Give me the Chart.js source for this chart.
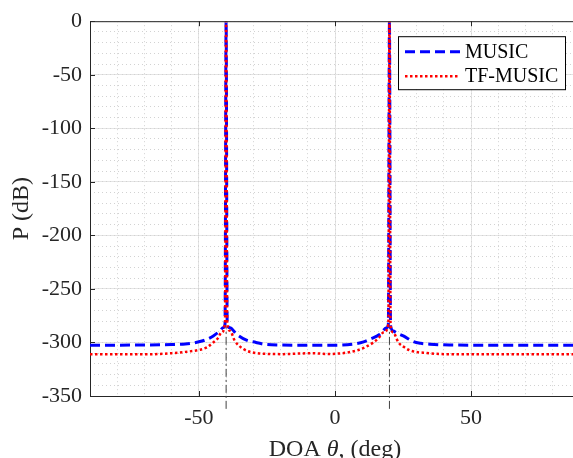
<!DOCTYPE html>
<html>
<head>
<meta charset="utf-8">
<script src="https://cdn.jsdelivr.net/npm/chart.js@4.4.1/dist/chart.umd.min.js"></script>
<style>
  html, body { margin: 0; padding: 0; background: #fff; overflow: hidden; }
  #marcoGrafico { width: 573px; height: 458px; overflow: hidden; }
</style>
</head>
<body>
<div id="marcoGrafico"><canvas id="graficoDoa" width="590" height="458"></canvas></div>
<script>
// Datos
const musicDoa = [-90, -80, -70, -60, -55, -50, -47, -44.7, -42.3, -41, -40.4, -40, -39.6, -38.6, -36.1,
  -32.5, -29, -26.3, -20, -10, 0, 8, 10.5, 12.9, 16.5, 19, 19.6, 20, 20.4, 21.4,
  22.5, 25.1, 28.8, 31.5, 34.9, 42, 50, 60, 70, 80, 90];
const musicP = [-302.5, -302.5, -302.4, -302, -301.4, -299.4, -297, -293.9, -289.3, -286, -283, 0, -283, -286.2, -292.4,
  -297.9, -300, -301.6, -302.4, -302.6, -302.6, -301, -299.5, -297, -292.4, -286.2, -283, 0, -284, -289.3,
  -291, -293.9, -299.2, -300.8, -301.6, -302.4, -302.5, -302.5, -302.5, -302.5, -302.5];

const tfDoa = [-90, -80, -68, -60, -55, -49.6, -47, -44.7, -43, -41.7, -40.4, -40, -39.6, -38.6, -36.8,
  -33.7, -28.8, -19, -14, -8, -3, 4, 8, 11, 14.1, 16, 17.8, 19.6, 20, 20.4,
  21.4, 23.3, 25.5, 27.6, 33.7, 42.3, 50, 60, 70, 80, 90];
const tfP = [-311, -311, -311, -310, -308.8, -306.8, -304.5, -300, -296, -290.7, -281.5, 0, -282, -289, -298.5,
  -306, -309.9, -310.9, -310.4, -310, -310.8, -309.6, -307.5, -304.5, -300, -296, -290.7, -283, 0, -283,
  -290.7, -300, -304.5, -307.5, -309.9, -311, -311, -311, -311, -311, -311];

const nombresSeries = ["MUSIC", "TF-MUSIC"];
const picosDoa = [-40, 20];
const tramoPico = [-362, -285];

const xTicks = [-50, 0, 50];
const yTicks = [-350, -300, -250, -200, -150, -100, -50, 0];

const fuente = '"Liberation Serif", "Times New Roman", serif';
const grisEje = "#262626";

function aPuntos(xs, ys) {
    return xs.map((x, i) => ({ x: x, y: ys[i] }));
}

// Marco, marcas internas, leyenda y título del eje x
const marco = {
    id: "marco",
    afterDraw(chart) {
        const { ctx, chartArea: a, scales } = chart;
        ctx.save();
        ctx.strokeStyle = grisEje;
        ctx.lineWidth = 1;
        ctx.beginPath();
        ctx.moveTo(a.left, a.top + 0.5);
        ctx.lineTo(a.right, a.top + 0.5);
        ctx.moveTo(a.right - 0.5, a.top);
        ctx.lineTo(a.right - 0.5, a.bottom);
        xTicks.forEach(v => {
            const px = Math.round(scales.x.getPixelForValue(v)) + 0.5;
            ctx.moveTo(px, a.bottom);
            ctx.lineTo(px, a.bottom - 5);
            ctx.moveTo(px, a.top);
            ctx.lineTo(px, a.top + 5);
        });
        yTicks.forEach(v => {
            const py = Math.round(scales.y.getPixelForValue(v)) + 0.5;
            ctx.moveTo(a.left, py);
            ctx.lineTo(a.left + 5, py);
            ctx.moveTo(a.right, py);
            ctx.lineTo(a.right - 5, py);
        });
        ctx.stroke();

        // leyenda
        const lx = a.right - 182, ly = a.top + 15, lw = 167, lh = 53;
        ctx.fillStyle = "#fff";
        ctx.fillRect(lx, ly, lw, lh);
        ctx.strokeStyle = "#000";
        ctx.strokeRect(lx + 0.5, ly + 0.5, lw, lh);
        chart.data.datasets.slice(0, 2).forEach((ds, i) => {
            const y = ly + 15.5 + i * 24.5;
            ctx.strokeStyle = ds.borderColor;
            ctx.lineWidth = ds.borderWidth;
            ctx.setLineDash(ds.borderDash);
            ctx.beginPath();
            ctx.moveTo(lx + 7, y);
            ctx.lineTo(lx + 62, y);
            ctx.stroke();
            ctx.setLineDash([]);
            ctx.fillStyle = "#000";
            ctx.font = "20px " + fuente;
            ctx.textBaseline = "middle";
            ctx.textAlign = "left";
            ctx.fillText(ds.label, lx + 67, y + 1);
        });

        // título del eje x con theta en cursiva
        const partes = [["DOA ", ""], ["θ", "italic "], [", (deg)", ""]];
        ctx.fillStyle = grisEje;
        ctx.textBaseline = "alphabetic";
        let total = 0;
        partes.forEach(p => { ctx.font = p[1] + "24px " + fuente; total += ctx.measureText(p[0]).width; });
        let cx = (a.left + a.right) / 2 - total / 2;
        partes.forEach(p => {
            ctx.font = p[1] + "24px " + fuente;
            ctx.fillText(p[0], cx, a.bottom + 60);
            cx += ctx.measureText(p[0]).width;
        });
        ctx.restore();
    }
};

function renderizarGrafico() {
    const ctx = document.getElementById("graficoDoa");

    const lineasPico = picosDoa.map(p => ({
        label: "pico " + p,
        data: tramoPico.map(v => ({ x: p, y: v })),
        borderColor: "#404040",
        borderWidth: 1,
        borderDash: [8, 3, 2, 3],
        pointRadius: 0,
        clip: false,
        order: 3,
        xAxisID: "x",
        yAxisID: "y",
    }));

    new Chart(ctx, {
        type: "line",
        data: {
            datasets: [
                {
                    label: nombresSeries[0],
                    data: aPuntos(musicDoa, musicP),
                    borderColor: "#0000ff",
                    borderWidth: 3,
                    borderDash: [10, 5],
                    pointRadius: 0,
                    cubicInterpolationMode: "monotone",
                    order: 2,
                    xAxisID: "x",
                    yAxisID: "y",
                },
                {
                    label: nombresSeries[1],
                    data: aPuntos(tfDoa, tfP),
                    borderColor: "#ff0000",
                    borderWidth: 2.5,
                    borderDash: [2.5, 2.5],
                    pointRadius: 0,
                    cubicInterpolationMode: "monotone",
                    order: 1,
                    xAxisID: "x",
                    yAxisID: "y",
                },
                ...lineasPico,
            ],
        },
        options: {
            responsive: false,
            animation: false,
            layout: { padding: { top: 17, right: 10, bottom: 0, left: 0 } },
            plugins: {
                legend: { display: false },
                tooltip: { enabled: false },
            },
            scales: {
                x: {
                    type: "linear",
                    position: "bottom",
                    min: -90,
                    max: 90,
                    afterBuildTicks: s => { s.ticks = xTicks.map(v => ({ value: v })); },
                    afterFit: s => { s.height = 62; },
                    ticks: { color: grisEje, font: { family: fuente, size: 22 }, padding: 9, maxRotation: 0 },
                    grid: { color: "#e4e4e4", drawTicks: false },
                    border: { color: grisEje, width: 1 },
                },
                xMenor: {
                    type: "linear",
                    position: "bottom",
                    min: -90,
                    max: 90,
                    ticks: { stepSize: 10, display: false },
                    afterFit: s => { s.height = 0; },
                    grid: { color: "#d2d2d2", drawTicks: false },
                    border: { display: false, dash: [1, 3] },
                },
                y: {
                    type: "linear",
                    position: "left",
                    min: -350,
                    max: 0,
                    afterBuildTicks: s => { s.ticks = yTicks.map(v => ({ value: v })); },
                    afterFit: s => { s.width = 90; },
                    ticks: { color: grisEje, font: { family: fuente, size: 22 }, padding: 8 },
                    grid: { color: "#e4e4e4", drawTicks: false },
                    border: { color: grisEje, width: 1 },
                    title: {
                        display: true,
                        text: "P (dB)",
                        color: grisEje,
                        font: { family: fuente, size: 24 },
                        padding: { top: 7, bottom: 0 },
                    },
                },
                yMenor: {
                    type: "linear",
                    position: "left",
                    min: -350,
                    max: 0,
                    ticks: { stepSize: 10, display: false },
                    afterFit: s => { s.width = 0; },
                    grid: { color: "#d2d2d2", drawTicks: false },
                    border: { display: false, dash: [1, 3] },
                },
            },
        },
        plugins: [marco],
    });
}

renderizarGrafico();
</script>
</body>
</html>
